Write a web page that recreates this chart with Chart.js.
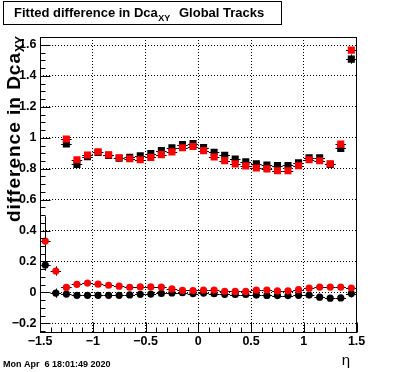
<!DOCTYPE html>
<html><head><meta charset="utf-8">
<script src="https://cdn.jsdelivr.net/npm/chart.js@4.4.1/dist/chart.umd.min.js"></script>
<style>html,body{margin:0;padding:0;background:#fff;}#wrap{width:396px;height:372px;position:relative;}</style>
</head><body><div id="wrap"><canvas id="c" width="396" height="372"></canvas></div>
<script>
// ---- data ----
const etaCenters = [-1.45,-1.35,-1.25,-1.15,-1.05,-0.95,-0.85,-0.75,-0.65,-0.55,-0.45,-0.35,-0.25,-0.15,-0.05,0.05,0.15,0.25,0.35,0.45,0.55,0.65,0.75,0.85,0.95,1.05,1.15,1.25,1.35,1.45];
const binHalfWidth = 0.05;
const upperBlack = [null,null,0.960,0.828,0.878,0.905,0.886,0.868,0.873,0.884,0.898,0.917,0.936,0.956,0.962,0.937,0.906,0.887,0.862,0.844,0.831,0.823,0.820,0.821,0.838,0.871,0.871,0.828,0.931,1.509];
const upperRed   = [null,null,0.992,0.858,0.888,0.910,0.890,0.871,0.864,0.858,0.873,0.891,0.909,0.935,0.943,0.917,0.876,0.852,0.831,0.818,0.805,0.799,0.787,0.787,0.819,0.858,0.851,0.832,0.959,1.567];
const lowerBlack = [0.177,-0.005,-0.011,-0.019,-0.019,-0.019,-0.019,-0.019,-0.017,-0.013,-0.011,-0.007,-0.004,-0.002,-0.008,-0.005,-0.009,-0.013,-0.014,-0.014,-0.018,-0.020,-0.021,-0.021,-0.019,-0.018,-0.031,-0.038,-0.036,-0.008];
const lowerRed   = [0.332,0.138,0.032,0.052,0.060,0.053,0.046,0.040,0.033,0.035,0.035,0.034,0.022,0.013,0.012,0.015,0.015,0.007,0.006,0.006,0.015,0.015,0.009,0.010,0.017,0.027,0.034,0.034,0.034,0.028];
const upperBlackErr = [0,0,0.012,0.008,0.008,0.008,0.008,0.008,0.008,0.008,0.008,0.008,0.008,0.008,0.008,0.008,0.008,0.008,0.008,0.008,0.008,0.008,0.008,0.008,0.008,0.008,0.008,0.008,0.015,0.03];
const upperRedErr   = [0,0,0.012,0.008,0.008,0.008,0.008,0.008,0.008,0.008,0.008,0.008,0.008,0.008,0.008,0.008,0.008,0.008,0.008,0.008,0.008,0.008,0.008,0.008,0.008,0.008,0.008,0.008,0.015,0.02];
const lowerBlackErr = [0.037,0.03,0.008,0.006,0.006,0.006,0.006,0.006,0.006,0.006,0.006,0.006,0.006,0.006,0.006,0.006,0.006,0.006,0.006,0.006,0.006,0.006,0.006,0.006,0.006,0.006,0.006,0.006,0.006,0.025];
const lowerRedErr   = [0.16,0.03,0.008,0.006,0.006,0.006,0.006,0.006,0.006,0.006,0.006,0.006,0.006,0.006,0.006,0.006,0.006,0.006,0.006,0.006,0.006,0.006,0.006,0.006,0.006,0.006,0.006,0.006,0.006,0.012];
const xTicks = [-1.5,-1,-0.5,0,0.5,1,1.5];
const xTickLabels = ["\u22121.5","\u22121","\u22120.5","0","0.5","1","1.5"];
const yTicks = [-0.2,0,0.2,0.4,0.6,0.8,1.0,1.2,1.4,1.6];
const yTickLabels = ["\u22120.2","0","0.2","0.4","0.6","0.8","1","1.2","1.4","1.6"];
const xRange = [-1.5, 1.5];
const yRange = [-0.265, 1.652];
const titleMain = "Fitted difference in Dca";
const titleSub = "XY";
const titleTail = "Global Tracks";
const yTitleMain = "difference in Dca";
const yTitleSub = "XY";
const xTitle = "\u03b7";
const dateText = "Mon Apr  6 18:01:49 2020";

const FONT = '"Liberation Sans", Arial, Helvetica, sans-serif';

function pts(arr, err){
  const out=[];
  etaCenters.forEach((x,i)=>{ if(arr[i]!==null) out.push({x:x,y:arr[i],e:err[i]}); });
  return out;
}

const errorBars = {
  id:'errorBars',
  beforeDatasetsDraw(chart){
    const ctx=chart.ctx, xs=chart.scales.x, ys=chart.scales.y;
    ctx.save();
    ctx.strokeStyle='#000'; ctx.lineWidth=1;
    chart.data.datasets.forEach(ds=>{
      ds.data.forEach(p=>{
        const px=xs.getPixelForValue(p.x), py=ys.getPixelForValue(p.y);
        const x1=xs.getPixelForValue(p.x-binHalfWidth), x2=xs.getPixelForValue(p.x+binHalfWidth);
        const y1=ys.getPixelForValue(p.y-p.e), y2=ys.getPixelForValue(p.y+p.e);
        const ry=Math.round(py)+0.5, rx=Math.round(px)+0.5;
        ctx.beginPath(); ctx.moveTo(x1,ry); ctx.lineTo(x2,ry); ctx.stroke();
        ctx.beginPath(); ctx.moveTo(rx,y1); ctx.lineTo(rx,y2); ctx.stroke();
      });
    });
    ctx.restore();
  }
};

const frameTicks = {
  id:'frameTicks',
  afterDraw(chart){
    const ctx=chart.ctx, a=chart.chartArea, xs=chart.scales.x, ys=chart.scales.y;
    ctx.save();
    ctx.strokeStyle='#000'; ctx.lineWidth=1;
    const L=Math.round(a.left)+0.5, R=Math.round(a.right)-0.5, T=Math.round(a.top)+0.5, B=Math.round(a.bottom)-0.5;
    ctx.strokeRect(L,T,R-L,B-T);
    ctx.beginPath();
    for(let i=-15;i<=15;i++){
      const v=i/10; const px=Math.round(xs.getPixelForValue(v))+0.5;
      const len=(i%5===0)?10:5;
      ctx.moveTo(px,B); ctx.lineTo(px,B-len);
    }
    for(let i=-5;i<=33;i++){
      const v=i*0.05; if(v<yRange[0]||v>yRange[1]) continue;
      const py=Math.round(ys.getPixelForValue(v))+0.5;
      const len=(i%4===0)?10:5;
      ctx.moveTo(L,py); ctx.lineTo(L+len,py);
    }
    ctx.stroke();
    ctx.restore();
  }
};

function spacedText(ctx, str, x, y, gap){
  let cx=x;
  for(const ch of str){ ctx.fillText(ch,cx,y); cx+=ctx.measureText(ch).width+gap; }
  return cx-x;
}
function spacedWidth(ctx, str, gap){
  let w=0; for(const ch of str){ w+=ctx.measureText(ch).width+gap; } return w;
}

const texts = {
  id:'texts',
  afterDraw(chart){
    const ctx=chart.ctx;
    ctx.save();
    // title box
    ctx.fillStyle='#fff'; ctx.fillRect(3.5,1.5,278,23);
    ctx.strokeStyle='#000'; ctx.lineWidth=1; ctx.strokeRect(3.5,1.5,278,23);
    ctx.fillStyle='#000'; ctx.textBaseline='alphabetic'; ctx.textAlign='left';
    ctx.font='bold 13px '+FONT;
    ctx.fillText(titleMain,14,16.7);
    let w=ctx.measureText(titleMain).width;
    ctx.font='bold 9px '+FONT;
    ctx.fillText(titleSub,14+w+0.5,20.5);
    ctx.font='bold 13px '+FONT;
    ctx.fillText(titleTail,179,16.7);
    // y title (rotated)
    ctx.save();
    ctx.translate(20,36);
    ctx.rotate(-Math.PI/2);
    const gap=1.0;
    ctx.font='bold 12px '+FONT;
    const ws=ctx.measureText(yTitleSub).width;
    ctx.font='bold 19px '+FONT;
    const wm=spacedWidth(ctx,yTitleMain,gap);
    ctx.textAlign='left';
    spacedText(ctx,yTitleMain,-(wm+ws),0,gap);
    ctx.font='bold 12px '+FONT;
    ctx.fillText(yTitleSub,-ws,4);
    ctx.restore();
    // x title
    ctx.font='15px '+FONT;
    ctx.textAlign='center';
    ctx.fillText(xTitle,346,365);
    // date
    ctx.font='bold 9px '+FONT;
    ctx.textAlign='left';
    ctx.fillText(dateText,3,367);
    ctx.restore();
  }
};

new Chart(document.getElementById('c'),{
  type:'scatter',
  data:{datasets:[
    {label:'upper red', data:pts(upperRed,upperRedErr), pointStyle:'rect', pointRadius:5, backgroundColor:'#ff0000', pointBorderWidth:0, borderColor:'#ff0000'},
    {label:'lower red', data:pts(lowerRed,lowerRedErr), pointStyle:'circle', pointRadius:3.6, backgroundColor:'#ff0000', pointBorderWidth:0, borderColor:'#ff0000'},
    {label:'upper black', data:pts(upperBlack,upperBlackErr), pointStyle:'rect', pointRadius:5, backgroundColor:'#000', pointBorderWidth:0, borderColor:'#000'},
    {label:'lower black', data:pts(lowerBlack,lowerBlackErr), pointStyle:'circle', pointRadius:3.6, backgroundColor:'#000', pointBorderWidth:0, borderColor:'#000'}
  ]},
  options:{
    responsive:false, animation:false, devicePixelRatio:1,
    layout:{padding:{left:0,top:37,right:39.4,bottom:0}},
    plugins:{legend:{display:false},tooltip:{enabled:false},title:{display:false}},
    elements:{point:{hoverRadius:0}},
    scales:{
      x:{type:'linear',min:xRange[0],max:xRange[1],
        afterBuildTicks:(s)=>{s.ticks=xTicks.map(v=>({value:v}));},
        afterFit:(s)=>{s.height=38.7;},
        ticks:{autoSkip:false,maxRotation:0,padding:1,color:'#000',font:{family:FONT,size:12.5,weight:'bold'},callback:(v,i)=>xTickLabels[i]},
        grid:{color:'#000',lineWidth:1,drawTicks:false},
        border:{display:false,dash:[1,2]}
      },
      y:{type:'linear',min:yRange[0],max:yRange[1],
        afterBuildTicks:(s)=>{s.ticks=yTicks.map(v=>({value:v}));},
        afterFit:(s)=>{s.width=40;},
        ticks:{autoSkip:false,padding:3.5,color:'#000',font:{family:FONT,size:12.5,weight:'bold'},callback:(v,i)=>yTickLabels[i]},
        grid:{color:'#000',lineWidth:1,drawTicks:false},
        border:{display:false,dash:[1,2]}
      }
    }
  },
  plugins:[errorBars,frameTicks,texts]
});
</script></body></html>
